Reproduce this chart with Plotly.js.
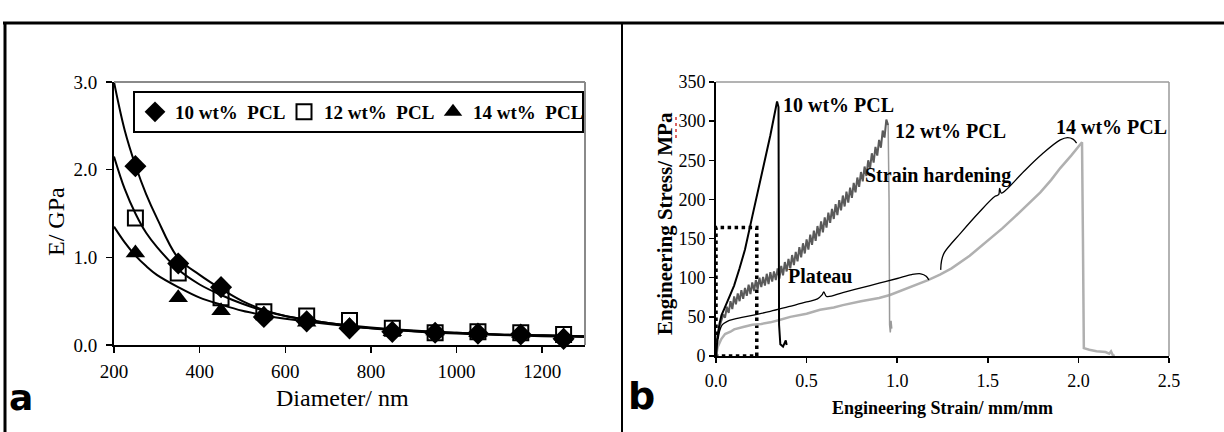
<!DOCTYPE html>
<html>
<head>
<meta charset="utf-8">
<script src="https://cdn.plot.ly/plotly-3.0.1.min.js"></script>
<style>html,body{margin:0;padding:0;background:#fff;}#chart{width:1224px;height:432px;}</style>
</head>
<body>
<div id="chart"></div>
<script>
// ---------- Panel a: modulus vs diameter ----------
const diameters = [250, 350, 450, 550, 650, 750, 850, 950, 1050, 1150, 1250];
const modulus10 = [2.04, 0.93, 0.66, 0.32, 0.27, 0.19, 0.15, 0.14, 0.13, 0.12, 0.07];
const modulus12 = [1.45, 0.82, 0.54, 0.38, 0.33, 0.28, 0.19, 0.14, 0.15, 0.14, 0.12];
const modulus14 = [1.05, 0.54, 0.39, 0.35, 0.26, 0.22, 0.15, 0.16, 0.14, 0.13, 0.10];

const fitDiam = [200, 225, 250, 275, 300, 350, 400, 450, 500, 550, 600, 700, 800, 900, 1000, 1100, 1200, 1300];
const fit10 = [3.0, 2.45, 2.05, 1.72, 1.45, 0.99, 0.80, 0.64, 0.50, 0.40, 0.33, 0.25, 0.19, 0.155, 0.13, 0.115, 0.10, 0.09];
const fit12 = [2.15, 1.78, 1.50, 1.28, 1.12, 0.86, 0.69, 0.57, 0.47, 0.39, 0.33, 0.25, 0.20, 0.165, 0.14, 0.12, 0.11, 0.10];
const fit14 = [1.35, 1.17, 1.02, 0.90, 0.80, 0.66, 0.54, 0.46, 0.39, 0.34, 0.30, 0.24, 0.19, 0.16, 0.14, 0.12, 0.11, 0.10];

const legendNames = ['10 wt%\u00a0 PCL', '12 wt%\u00a0 PCL', '14 wt%\u00a0 PCL'];
const curveLabels = ['10 wt% PCL', '12 wt% PCL', '14 wt% PCL'];
const xTicksA = [200, 400, 600, 800, 1000, 1200];
const yTicksA = [0, 1, 2, 3];

// ---------- Panel b: stress-strain ----------
const strain10 = [0, 0.005, 0.01, 0.02, 0.03, 0.045, 0.06, 0.08, 0.10, 0.13, 0.16, 0.20, 0.25, 0.30, 0.337, 0.345, 0.348, 0.35, 0.355, 0.37, 0.385, 0.39];
const stress10 = [0, 15, 28, 42, 52, 60, 68, 78, 90, 112, 136, 178, 230, 282, 325, 318, 40, 25, 15, 12, 20, 14];

const strain12 = [0, 0.005, 0.01, 0.02, 0.03,
  0.04, 0.05, 0.06, 0.07, 0.08, 0.09, 0.10, 0.11, 0.12, 0.13, 0.14, 0.15, 0.16, 0.17, 0.18, 0.19,
  0.20, 0.21, 0.22, 0.23, 0.24, 0.25, 0.26, 0.27, 0.28, 0.29, 0.30, 0.31, 0.32, 0.33, 0.34, 0.35,
  0.36, 0.37, 0.38, 0.39, 0.40, 0.41, 0.42, 0.43, 0.44, 0.45, 0.46, 0.47, 0.48, 0.49, 0.50, 0.51,
  0.52, 0.53, 0.54, 0.55, 0.56, 0.57, 0.58, 0.59, 0.60, 0.61, 0.62, 0.63, 0.64, 0.65, 0.66, 0.67,
  0.68, 0.69, 0.70, 0.71, 0.72, 0.73, 0.74, 0.75, 0.76, 0.77, 0.78, 0.79, 0.80, 0.81, 0.82, 0.83,
  0.84, 0.85, 0.86, 0.87, 0.88, 0.89, 0.90, 0.91, 0.92, 0.93, 0.94, 0.95];
const stress12 = [0, 14, 25, 38, 46,
  53, 49, 63, 55, 70, 60, 76, 66, 80, 70, 84, 73, 87, 77, 91, 79,
  94, 83, 97, 85, 100, 88, 101, 90, 105, 92, 107, 95, 108, 97, 112, 99,
  115, 103, 120, 108, 124, 112, 129, 116, 133, 121, 139, 126, 144, 131, 149, 136,
  155, 142, 160, 147, 166, 153, 172, 158, 177, 164, 183, 170, 188, 175, 194, 180,
  199, 186, 205, 191, 210, 196, 215, 202, 221, 209, 228, 216, 235, 223, 242, 230,
  250, 239, 259, 247, 267, 256, 276, 266, 288, 279, 302, 295];
const strain12drop = [0.95, 0.955, 0.958, 0.962, 0.966, 0.97];
const stress12drop = [295, 200, 40, 30, 45, 35];

const strain14 = [0, 0.01, 0.03, 0.05, 0.08, 0.10, 0.15, 0.20, 0.25, 0.30, 0.35, 0.41, 0.50, 0.574, 0.65, 0.70, 0.80, 0.90, 0.96, 1.03, 1.10, 1.17, 1.236, 1.30, 1.40, 1.51, 1.58, 1.65, 1.72, 1.79, 1.85, 1.90, 1.96, 2.02, 2.025, 2.03, 2.06, 2.10, 2.15, 2.17, 2.18, 2.19, 2.20];
const stress14 = [0, 12, 22, 28, 31, 34, 37, 40, 41, 43, 46, 50, 54, 59, 62, 65, 70, 74, 78, 84, 90, 97, 104, 112, 128, 149, 163, 178, 193, 209, 225, 240, 256, 273, 150, 10, 8, 6, 5, 3, 6, 1, 0];

const plateauStrain = [0.012, 0.02, 0.035, 0.06, 0.10, 0.20, 0.30, 0.40, 0.50, 0.56, 0.585, 0.595, 0.61, 0.70, 0.80, 0.90, 1.00, 1.08, 1.13, 1.16, 1.175];
const plateauStress = [22, 32, 40, 44, 47, 52, 57, 63, 69, 73, 78, 82, 76, 81, 87, 93, 99, 104, 105, 102, 97];

const hardenStrain = [1.24, 1.245, 1.26, 1.35, 1.45, 1.54, 1.56, 1.565, 1.575, 1.60, 1.70, 1.80, 1.90, 1.94, 1.97, 1.99];
const hardenStress = [110, 122, 132, 157, 183, 204, 206, 214, 208, 212, 236, 258, 276, 279, 277, 272];

const zoomBoxStrain = [0, 0, 0.225, 0.225, 0];
const zoomBoxStress = [0, 164, 164, 0, 0];

const xTicksB = [0, 0.5, 1.0, 1.5, 2.0, 2.5];
const yTicksB = [0, 50, 100, 150, 200, 250, 300, 350];

// ---------- build ----------
const W = 1224, H = 432;
const px = v => v / W;
const py = v => 1 - v / H;
const serif = 'Liberation Serif';
const heavy = 'DejaVu Sans';

const traces = [
  {x: fitDiam, y: fit10, mode: 'lines', line: {color: '#000', width: 2, shape: 'spline'}, showlegend: false, xaxis: 'x', yaxis: 'y', hoverinfo: 'skip'},
  {x: fitDiam, y: fit12, mode: 'lines', line: {color: '#000', width: 2, shape: 'spline'}, showlegend: false, xaxis: 'x', yaxis: 'y', hoverinfo: 'skip'},
  {x: fitDiam, y: fit14, mode: 'lines', line: {color: '#000', width: 2, shape: 'spline'}, showlegend: false, xaxis: 'x', yaxis: 'y', hoverinfo: 'skip'},
  {x: diameters, y: modulus10, name: legendNames[0], mode: 'markers', marker: {symbol: 'diamond', size: 17, color: '#000'}, xaxis: 'x', yaxis: 'y', cliponaxis: false},
  {x: diameters, y: modulus12, name: legendNames[1], mode: 'markers', marker: {symbol: 'square-open', size: 15, color: '#000', line: {width: 2, color: '#000'}}, xaxis: 'x', yaxis: 'y', cliponaxis: false},
  {x: diameters, y: modulus14, name: legendNames[2], mode: 'markers', marker: {symbol: 'triangle-up', size: 17, color: '#000'}, xaxis: 'x', yaxis: 'y', cliponaxis: false},

  {x: zoomBoxStrain, y: zoomBoxStress, mode: 'lines', line: {color: '#000', width: 3.5, dash: 'dot'}, showlegend: false, xaxis: 'x2', yaxis: 'y2', cliponaxis: false},
  {x: strain14, y: stress14, mode: 'lines', line: {color: '#b0b0b0', width: 2.5}, showlegend: false, xaxis: 'x2', yaxis: 'y2'},
  {x: strain12drop, y: stress12drop, mode: 'lines', line: {color: '#9a9a9a', width: 1.5}, showlegend: false, xaxis: 'x2', yaxis: 'y2'},
  {x: strain12, y: stress12, mode: 'lines', line: {color: '#5a5a5a', width: 2}, showlegend: false, xaxis: 'x2', yaxis: 'y2'},
  {x: strain10, y: stress10, mode: 'lines', line: {color: '#000', width: 2}, showlegend: false, xaxis: 'x2', yaxis: 'y2'},
  {x: plateauStrain, y: plateauStress, mode: 'lines', line: {color: '#000', width: 1.3, shape: 'spline'}, showlegend: false, xaxis: 'x2', yaxis: 'y2'},
  {x: hardenStrain, y: hardenStress, mode: 'lines', line: {color: '#000', width: 1.3, shape: 'spline'}, showlegend: false, xaxis: 'x2', yaxis: 'y2'}
];

const axisCommon = {
  showgrid: false, zeroline: false, showline: true, linecolor: '#000', linewidth: 2,
  ticks: 'outside', tickcolor: '#000', tickwidth: 1.5, fixedrange: true
};

function note(text, x, y, size, opts) {
  return Object.assign({text: text, xref: 'paper', yref: 'paper', x: x, y: y, xanchor: 'center', yanchor: 'middle', showarrow: false,
    font: {family: serif, size: size, color: '#000'}}, opts || {});
}
function curveNote(text, x, y, xanchor) {
  return {text: text, xref: 'x2', yref: 'y2', x: x, y: y, xanchor: xanchor, yanchor: 'middle', showarrow: false,
    font: {family: serif, size: 20, color: '#000', weight: 'bold'}};
}

const layout = {
  width: W, height: H,
  margin: {l: 0, r: 0, t: 0, b: 0},
  paper_bgcolor: '#fff', plot_bgcolor: '#fff',
  font: {family: serif, color: '#000'},
  showlegend: true,
  legend: {
    orientation: 'h', x: px(133), y: py(91), xanchor: 'left', yanchor: 'top',
    bgcolor: '#fff', bordercolor: '#000', borderwidth: 2,
    font: {family: serif, size: 19, color: '#000', weight: 'bold'},
    entrywidth: 104, entrywidthmode: 'pixels', itemwidth: 30, tracegroupgap: 0
  },
  xaxis: Object.assign({}, axisCommon, {
    domain: [px(114), px(585)], range: [200, 1300], anchor: 'y',
    tickvals: xTicksA, ticklen: 6, ticklabelstandoff: 2,
    tickfont: {family: serif, size: 19, color: '#000'}
  }),
  yaxis: Object.assign({}, axisCommon, {
    domain: [py(345), py(82)], range: [0, 3], anchor: 'x',
    tickvals: yTicksA, tickformat: '.1f', ticklen: 6, ticklabelstandoff: 5,
    tickfont: {family: serif, size: 19, color: '#000'}
  }),
  xaxis2: Object.assign({}, axisCommon, {
    domain: [px(716), px(1169)], range: [0, 2.5], anchor: 'y2',
    tickvals: xTicksB, tickformat: '.1f', ticklen: 5, ticklabelstandoff: 2,
    tickfont: {family: serif, size: 18, color: '#000'}
  }),
  yaxis2: Object.assign({}, axisCommon, {
    domain: [py(356), py(82)], range: [0, 350], anchor: 'x2',
    tickvals: yTicksB, ticklen: 5, ticklabelstandoff: 0,
    tickfont: {family: serif, size: 18, color: '#000'}
  }),
  shapes: [
    // outer frame
    {type: 'line', xref: 'paper', yref: 'paper', x0: px(3), x1: 1, y0: py(23), y1: py(23), line: {color: '#000', width: 3}},
    {type: 'line', xref: 'paper', yref: 'paper', x0: px(5), x1: px(5), y0: 0, y1: py(23), line: {color: '#000', width: 3}},
    {type: 'line', xref: 'paper', yref: 'paper', x0: px(622), x1: px(622), y0: 0, y1: py(23), line: {color: '#000', width: 2}},
    // grey plot-area borders (top / right)
    {type: 'line', xref: 'x domain', yref: 'y domain', x0: 0, x1: 1, y0: 1, y1: 1, line: {color: '#8a8a8a', width: 2}},
    {type: 'line', xref: 'x domain', yref: 'y domain', x0: 1, x1: 1, y0: 0, y1: 1, line: {color: '#8a8a8a', width: 2}},
    {type: 'line', xref: 'x2 domain', yref: 'y2 domain', x0: 0, x1: 1, y0: 1, y1: 1, line: {color: '#9a9a9a', width: 1.5}},
    {type: 'line', xref: 'x2 domain', yref: 'y2 domain', x0: 1, x1: 1, y0: 0, y1: 1, line: {color: '#9a9a9a', width: 1.5}},
    // red spell-check squiggle under "MPa" in the y title
    {type: 'line', xref: 'paper', yref: 'paper', x0: px(676), x1: px(676), y0: py(117), y1: py(140), line: {color: '#d03030', width: 1.5, dash: 'dot'}}
  ],
  annotations: [
    note('E/ GPa', px(56), py(221), 24, {textangle: -90}),
    note('Diameter/ nm', px(342), py(398), 24),
    note('a', px(21), py(397), 36, {font: {family: heavy, size: 36, color: '#000', weight: 'bold'}}),
    note('Engineering Stress/ MPa', px(665), py(224), 21, {textangle: -90, font: {family: serif, size: 21, color: '#000', weight: 'bold'}}),
    note('Engineering Strain/ mm/mm', px(942), py(408), 18, {font: {family: serif, size: 18, color: '#000', weight: 'bold'}}),
    note('b', px(641), py(396), 38, {font: {family: heavy, size: 38, color: '#000', weight: 'bold'}}),
    curveNote(curveLabels[0], 0.36, 320, 'left'),
    curveNote(curveLabels[1], 0.975, 288, 'left'),
    curveNote(curveLabels[2], 2.18, 292, 'center'),
    curveNote('Strain hardening', 1.225, 230, 'center'),
    curveNote('Plateau', 0.574, 102, 'center')
  ]
};

Plotly.newPlot('chart', traces, layout, {displayModeBar: false, staticPlot: true});
</script>
</body>
</html>
